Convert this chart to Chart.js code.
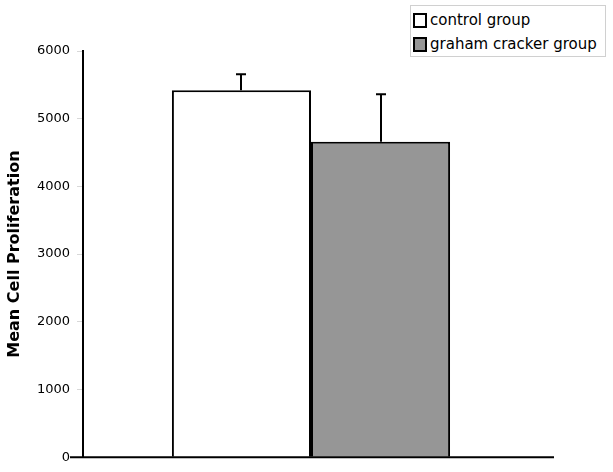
<!DOCTYPE html>
<html><head><meta charset="utf-8">
<script src="https://cdn.jsdelivr.net/npm/chart.js@4"></script>
<style>
html,body{margin:0;padding:0;background:#fff;}
#wrap{position:relative;width:613px;height:472px;}
#legend{position:absolute;left:410px;top:5px;width:196px;height:52px;border:1px solid #d0d0d0;background:#fff;font-family:"DejaVu Sans",Verdana,sans-serif;font-size:15px;color:#000;box-sizing:border-box;}
.item{position:absolute;left:2px;display:flex;align-items:center;white-space:nowrap;}
.sw{width:10px;height:11px;border:2px solid #000;margin-right:3px;}
</style></head>
<body><div id="wrap"><canvas id="c" width="613" height="472"></canvas><div id="legend"></div></div>
<script>
const categories = [""];
const seriesNames = ["control group", "graham cracker group"];
const seriesValues = [[5420], [4660]];
const seriesErrors = [[235], [700]];
const seriesColors = ["#ffffff", "#969696"];
const yTicks = [0, 1000, 2000, 3000, 4000, 5000, 6000];
const yTitle = "Mean Cell Proliferation";

const errorBars = {
  id: 'errorBars',
  afterDatasetsDraw(chart) {
    const ctx = chart.ctx, y = chart.scales.y;
    ctx.save();
    ctx.strokeStyle = '#000'; ctx.lineWidth = 2;
    chart.data.datasets.forEach((ds, i) => {
      chart.getDatasetMeta(i).data.forEach((bar, j) => {
        const top = y.getPixelForValue(ds.data[j] + seriesErrors[i][j]);
        const x = Math.round(bar.x);
        ctx.beginPath();
        ctx.moveTo(x, bar.y); ctx.lineTo(x, top);
        ctx.moveTo(x - 5, top); ctx.lineTo(x + 5, top);
        ctx.stroke();
      });
    });
    ctx.restore();
  }
};
const xLine = {
  id: 'xLine',
  afterDatasetsDraw(chart) {
    const ctx = chart.ctx, a = chart.chartArea, y = chart.scales.y;
    const py = y.getPixelForValue(0);
    ctx.save();
    ctx.strokeStyle = '#000'; ctx.lineWidth = 2;
    ctx.beginPath(); ctx.moveTo(a.left - 13, py); ctx.lineTo(554, py); ctx.stroke();
    ctx.restore();
  }
};

new Chart(document.getElementById('c'), {
  type: 'bar',
  data: {
    labels: categories,
    datasets: seriesNames.map((n, i) => ({
      label: n, data: seriesValues[i], backgroundColor: seriesColors[i],
      borderColor: '#000', borderWidth: 2,
      categoryPercentage: 0.61, barPercentage: 1.0
    }))
  },
  options: {
    responsive: false, animation: false,
    layout: { padding: { left: 0, right: 74, top: 51, bottom: 13 } },
    plugins: { legend: { display: false }, tooltip: { enabled: false } },
    scales: {
      x: { display: false },
      y: {
        min: 0, max: 6000,
        afterBuildTicks(s) { s.ticks = yTicks.map(v => ({ value: v })); },
        afterFit(s) { s.width = 83; },
        ticks: { font: { family: '"DejaVu Sans", Verdana, sans-serif', size: 13 }, color: '#000', padding: 7, callback: v => String(v) },
        grid: { drawOnChartArea: false, drawTicks: true, tickLength: 6, color: '#d8d8d8' },
        border: { color: '#000', width: 2 },
        title: { display: true, text: yTitle, color: '#000', font: { family: '"DejaVu Sans", Verdana, sans-serif', size: 16, weight: 'bold' }, padding: { top: 5, bottom: 0 } }
      }
    }
  },
  plugins: [errorBars, xLine]
});

const lg = document.getElementById('legend');
seriesNames.forEach((n, i) => {
  const d = document.createElement('div');
  d.className = 'item';
  d.style.top = (i === 0 ? 5 : 29) + 'px';
  d.innerHTML = '<span class="sw" style="background:' + seriesColors[i] + '"></span><span>' + n + '</span>';
  lg.appendChild(d);
});
</script></body></html>
